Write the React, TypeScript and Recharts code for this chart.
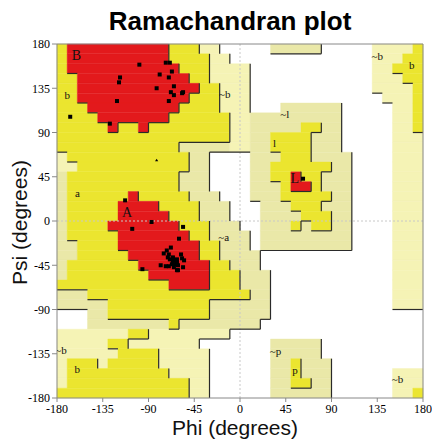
import React from 'react';
import { ScatterChart, Scatter, XAxis, YAxis, ReferenceArea, ReferenceLine } from 'recharts';

// Axis ticks (degrees)
const phiTicks = [-180, -135, -90, -45, 0, 45, 90, 135, 180];
const psiTicks = [-180, -135, -90, -45, 0, 45, 90, 135, 180];

// Region map: 36 rows of 10° psi bands (from psi=180 downwards), each run-length encoded
// over 36 phi columns of 10° (from phi=-180). '.' disallowed, c/g generously allowed,
// y additional allowed, r most favoured.
const regionRows = [
  'y1r10y3c2.5g5.5c4y1',
  'y1r10y4c2.14c3y2',
  'y1r11y3c4.12c2y3',
  'y2r11y2c4.12c3y2',
  'y2r12y2c3.12c4y1',
  'y2r11y3c3.13c3y1',
  'y3r9y4c3.3g6.5c2y1',
  'y4r7y6c2g9.5c2y1',
  'y5r1y2r1y8c2g5y2g2.5c2y1',
  'y17c2g2y4g3.5c3',
  'y12g5c2g2y4g3.5c3',
  'c1y12g2.4g3y3g4.4c3',
  'c2y11g2.4g2y6g2.4c3',
  'g1y11g3.4g2y2r1y2g3.4c3',
  'g1y11g3.4g3y1r2y1g3.4c3',
  'g1y6r1y5g3.3g3y5g2.4c3',
  'g1y5r4y4g3.3g3y3g3.4c3',
  'g1y5r5y3g3.3g4y3g2.4c3',
  'g1y4r7y3g3.2g3y1g1y2g2.4c3',
  'g1y5r7y2g4.1g9.4c3',
  'g2y4r8y2g3.1g9.4c3',
  'g2y5r7y2g4.13c3',
  'g1y7r7y2g3.13c3',
  'g1y8r6y3g3.12c3',
  'y11r4y3g3.12c3',
  'g3y16g2.12c3',
  'g5y10g6.12c3',
  '.3g2y10g6.15',
  '.3g8y1g8.16',
  'c7y2c8.19',
  'c5y2c7.7g5.10',
  'c6y4c5.6g5.10',
  'c1y3c1y5c5.6g2y1g3.9',
  'c1y10c4.6g2y1g3.6c3',
  'c1y12c2.6g2y2g2.6c3',
  'y13c2.6g6.6c2y1',
];

const regionColors: Record<string, string> = {
  c: '#F5F3B5',
  g: '#EAE8A8',
  y: '#EBE52F',
  r: '#E3191C',
};
const regionLevels: Record<string, number> = { '.': 0, c: 1, g: 1, y: 2, r: 3 };

// Residue points (phi, psi)
const pointPhi = [
  -99, -73, -69, -67, -79, -70, -118, -119, -82, -65, -68, -65, -57, -56, -70, -121, -167, -128,
  -113, -87, -106, -56, -60, -96, -78, -73, -55, -56, -62,
  -68, -72, -75, -70, -66, -62, -66, -64, -61, -58, -57, -69, -70, -61, -65, -71, -67, -64, -62, -66,
  62,
];
const pointPsi = [
  159, 161, 161, 152, 149, 146, 146, 141, 135, 137, 131, 128, 130, 131, 122, 122, 106, 99,
  21, -1, -8, -6, -18, -49, -45, -46, -40, -47, -50,
  -27, -30, -33, -34, -37, -39, -41, -44, -45, -34, -38, -39, -46, -50, -47, -37, -44, -40, -42, -38,
  43,
];
// Glycine-like small marker
const glyPhi = [-82];
const glyPsi = [62];

// Region labels
const labelText = ['B', 'b', '~b', 'a', 'A', '~a', '~b', 'b', '~l', 'l', 'L', '~b', 'b', '~p', 'p', '~b'];
const labelPhi = [-161, -170, -15, -160, -111, -16, -176, -160, 44, 34, 54, 135, 169, 35, 54, 155];
const labelPsi = [168, 128, 129, 28, 9, -16, -131, -151, 109, 79, 43, 168, 159, -132, -152, -161];

const N = 36;
const STEP = 10;

function parseRow(s: string): string[] {
  const out: string[] = [];
  const re = /([.cgyr])(\d+)/g;
  let m: RegExpExecArray | null;
  while ((m = re.exec(s))) {
    for (let k = 0; k < Number(m[2]); k++) out.push(m[1]);
  }
  while (out.length < N) out.push('.');
  return out.slice(0, N);
}

const grid = regionRows.map(parseRow);
const lvl = (j: number, i: number) => regionLevels[grid[j][i]];

type Area = { x1: number; x2: number; y1: number; y2: number; fill: string };
const areas: Area[] = [];
grid.forEach((row, j) => {
  let i = 0;
  while (i < N) {
    const ch = row[i];
    let k = i;
    while (k + 1 < N && row[k + 1] === ch) k++;
    if (ch !== '.') {
      areas.push({
        x1: -180 + i * STEP,
        x2: -180 + (k + 1) * STEP,
        y1: 180 - (j + 1) * STEP,
        y2: 180 - j * STEP,
        fill: regionColors[ch],
      });
    }
    i = k + 1;
  }
});

type Seg = [{ x: number; y: number }, { x: number; y: number }];
const shadows: Seg[] = [];
// bottom edges
for (let j = 0; j < N - 1; j++) {
  let i = 0;
  while (i < N) {
    if (lvl(j, i) > lvl(j + 1, i)) {
      let k = i;
      while (k + 1 < N && lvl(j, k + 1) > lvl(j + 1, k + 1)) k++;
      const y = 180 - (j + 1) * STEP;
      shadows.push([{ x: -180 + i * STEP, y }, { x: -180 + (k + 1) * STEP, y }]);
      i = k + 1;
    } else i++;
  }
}
// right edges
for (let i = 0; i < N - 1; i++) {
  let j = 0;
  while (j < N) {
    if (lvl(j, i) > lvl(j, i + 1)) {
      let k = j;
      while (k + 1 < N && lvl(k + 1, i) > lvl(k + 1, i + 1)) k++;
      const x = -180 + (i + 1) * STEP;
      shadows.push([{ x, y: 180 - j * STEP }, { x, y: 180 - (k + 1) * STEP }]);
      j = k + 1;
    } else j++;
  }
}

const points = pointPhi.map((phi, k) => ({ phi, psi: pointPsi[k] }));
const glyPoints = glyPhi.map((phi, k) => ({ phi, psi: glyPsi[k] }));
const labels = labelText.map((t, k) => ({ phi: labelPhi[k], psi: labelPsi[k], t }));

const SquareShape = (props: any) => {
  const { cx, cy } = props;
  return <rect x={cx - 2} y={cy - 2} width={4} height={4} fill="#000" />;
};
const TriShape = (props: any) => {
  const { cx, cy } = props;
  return <path d={`M${cx - 1.6},${cy + 1.2}L${cx + 1.6},${cy + 1.2}L${cx},${cy - 1.4}Z`} fill="#000" />;
};
const LabelShape = (props: any) => {
  const { cx, cy, payload } = props;
  const big = payload.t === 'A' || payload.t === 'B' || payload.t === 'L';
  return (
    <text
      x={cx}
      y={cy}
      textAnchor="middle"
      dominantBaseline="central"
      fontFamily='"Liberation Serif", "Times New Roman", serif'
      fontSize={big ? 14 : 11}
      fill="#111"
    >
      {payload.t}
    </text>
  );
};

const serif = '"Liberation Serif", "Times New Roman", serif';
const sans = '"Liberation Sans", Arial, Helvetica, sans-serif';

export default function App() {
  return (
    <div style={{ position: 'absolute', left: 0, top: 0, width: 432, height: 442, background: '#fff', overflow: 'hidden' }}>
      <ScatterChart width={432} height={442} margin={{ top: 44, right: 9, bottom: 0, left: 0 }}>
        <XAxis
          type="number"
          dataKey="phi"
          domain={[-180, 180]}
          ticks={phiTicks}
          allowDataOverflow
          height={44}
          tickSize={4}
          tick={{ fontFamily: serif, fontSize: 12, fill: '#000' }}
          axisLine={{ stroke: '#888' }}
          tickLine={{ stroke: '#888' }}
        />
        <YAxis
          type="number"
          dataKey="psi"
          domain={[-180, 180]}
          ticks={psiTicks}
          allowDataOverflow
          width={57}
          tickSize={5}
          tick={{ fontFamily: serif, fontSize: 12, fill: '#000' }}
          axisLine={{ stroke: '#888' }}
          tickLine={{ stroke: '#888' }}
        />
        {areas.map((a, k) => (
          <ReferenceArea
            key={'a' + k}
            x1={a.x1}
            x2={a.x2}
            y1={a.y1}
            y2={a.y2}
            fill={a.fill}
            fillOpacity={1}
            stroke={a.fill}
            strokeWidth={0.4}
            ifOverflow="visible"
          />
        ))}
        <ReferenceLine x={0} stroke="#c8c8c8" strokeDasharray="2 2" />
        <ReferenceLine y={0} stroke="#c8c8c8" strokeDasharray="2 2" />
        {shadows.map((s, k) => (
          <ReferenceLine key={'s' + k} segment={s} stroke="#2a2a2a" strokeWidth={1.2} ifOverflow="visible" />
        ))}
        <ReferenceLine y={180} stroke="#888" />
        <ReferenceLine x={180} stroke="#888" />
        <Scatter data={labels} shape={LabelShape} isAnimationActive={false} />
        <Scatter data={glyPoints} shape={TriShape} isAnimationActive={false} />
        <Scatter data={points} shape={SquareShape} isAnimationActive={false} />
      </ScatterChart>
      <div
        style={{
          position: 'absolute',
          left: 0,
          top: 8,
          width: 460,
          textAlign: 'center',
          fontFamily: sans,
          fontWeight: 'bold',
          fontSize: 26,
          lineHeight: '26px',
          color: '#000',
        }}
      >
        Ramachandran plot
      </div>
      <div
        style={{
          position: 'absolute',
          left: 135,
          top: 417,
          width: 200,
          textAlign: 'center',
          fontFamily: sans,
          fontSize: 21,
          lineHeight: '21px',
          color: '#111',
        }}
      >
        Phi (degrees)
      </div>
      <div
        style={{
          position: 'absolute',
          left: 19 - 100,
          top: 222 - 10.5,
          width: 200,
          height: 21,
          textAlign: 'center',
          fontFamily: sans,
          fontSize: 21,
          lineHeight: '21px',
          color: '#111',
          transform: 'rotate(-90deg)',
        }}
      >
        Psi (degrees)
      </div>
    </div>
  );
}
